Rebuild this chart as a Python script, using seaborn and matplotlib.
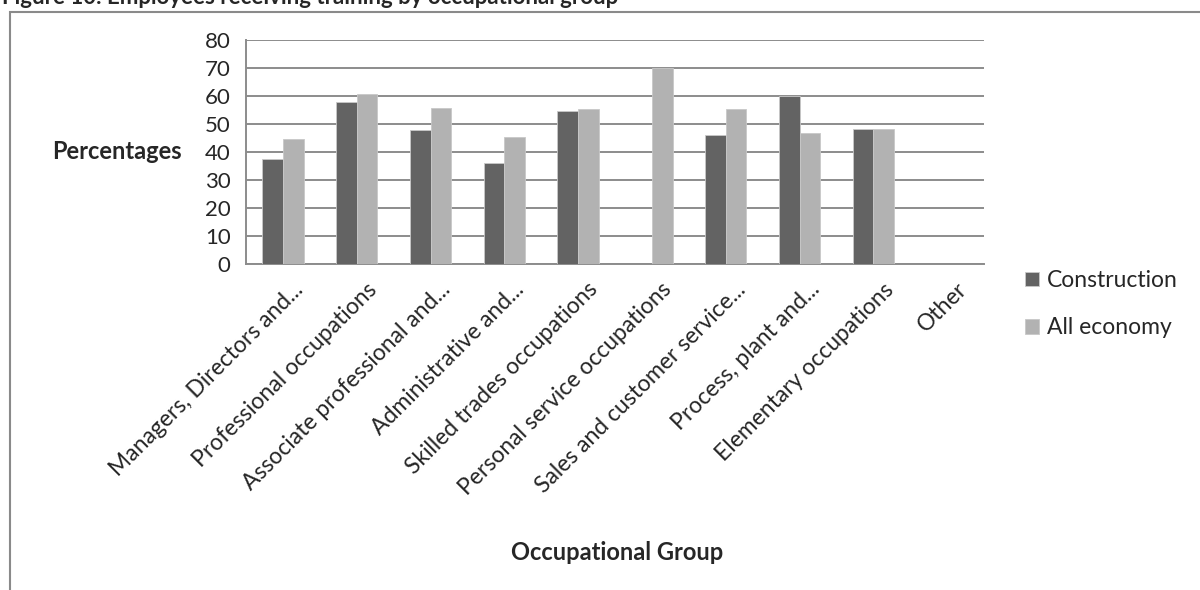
import pandas as pd
import matplotlib.pyplot as plt
import seaborn as sns
from matplotlib.patches import Rectangle

# Data

groups = ["Managers, Directors and...", "Professional occupations",
          "Associate professional and...", "Administrative and...",
          "Skilled trades occupations", "Personal service occupations",
          "Sales and customer service...", "Process, plant and...",
          "Elementary occupations", "Other"]
construction = [37.4, 57.9, 48.0, 36.1, 54.7, None, 46.2, 60.0, 48.2, None]
all_economy = [44.5, 60.7, 55.8, 45.4, 55.2, 70.1, 55.4, 46.7, 48.1, None]
series = ["Construction", "All economy"]
colors = ["#636363", "#b2b2b2"]

df = pd.DataFrame({"Group": groups * 2,
                   "Series": [series[0]] * len(groups) + [series[1]] * len(groups),
                   "Value": construction + all_economy})

sns.set_style("white")
plt.rcParams["font.family"] = ["Lato", "DejaVu Sans"]

fig = plt.figure(figsize=(12, 5.9), dpi=100)
ax = fig.add_axes([246 / 1200, 1 - 264 / 590, 738 / 1200, 224 / 590])

# outer chart frame (partly cut off, as in the source image)
fig.patches.append(Rectangle((10 / 1200, -0.05), 1.1, 1.05 - 11.5 / 590,
                             transform=fig.transFigure, fill=False,
                             edgecolor="#8a8a8a", linewidth=1.5, zorder=0))
fig.text(2 / 1200, 1 - 4 / 590, "Figure 10: Employees receiving training by occupational group",
         fontsize=16, fontweight="bold", ha="left", va="baseline")

sns.barplot(data=df, x="Group", y="Value", hue="Series", palette=colors,
            width=0.56, ax=ax, edgecolor="#c8c8c8", linewidth=0.6,
            saturation=1, zorder=3)

ax.set_ylim(0, 80)
ax.set_xlim(-0.5, len(groups) - 0.5)
ax.set_yticks(range(0, 81, 10))
ax.grid(axis="y", color="#8c8c8c", linewidth=1.4, zorder=0)
ax.set_axisbelow(True)
for side in ["top", "right"]:
    ax.spines[side].set_visible(False)
for side in ["left", "bottom"]:
    ax.spines[side].set_color("#8c8c8c")
    ax.spines[side].set_linewidth(1.4)

ax.tick_params(axis="y", length=7, width=1.4, color="#8c8c8c", labelsize=16, pad=4)
# x ticks sit on category boundaries
ax.set_xticks([i - 0.5 for i in range(len(groups) + 1)])
ax.set_xticklabels([])
ax.tick_params(axis="x", length=6, width=1.4, color="#8c8c8c")
for i, g in enumerate(groups):
    ax.annotate(g, xy=(i, 0), xycoords=("data", "axes fraction"),
                xytext=(12, -16), textcoords="offset points",
                rotation=45, rotation_mode="anchor", ha="right", va="center",
                fontsize=16.5)

ax.set_xlabel("")
ax.set_ylabel("")
fig.text(617 / 1200, 1 - 552 / 590, "Occupational Group", fontsize=17,
         fontweight="bold", ha="center", va="center")
fig.text(182 / 1200, 1 - 152 / 590, "Percentages", fontsize=17,
         fontweight="bold", ha="right", va="center")

leg = ax.legend(loc="upper left", bbox_to_anchor=(1025 / 1200, 1 - 270 / 590),
                bbox_transform=fig.transFigure, frameon=False, fontsize=16.5,
                handlelength=0.6, handleheight=0.6, handletextpad=0.35,
                labelspacing=1.15, borderaxespad=0, borderpad=0)

fig.savefig("out.png", dpi=100)
